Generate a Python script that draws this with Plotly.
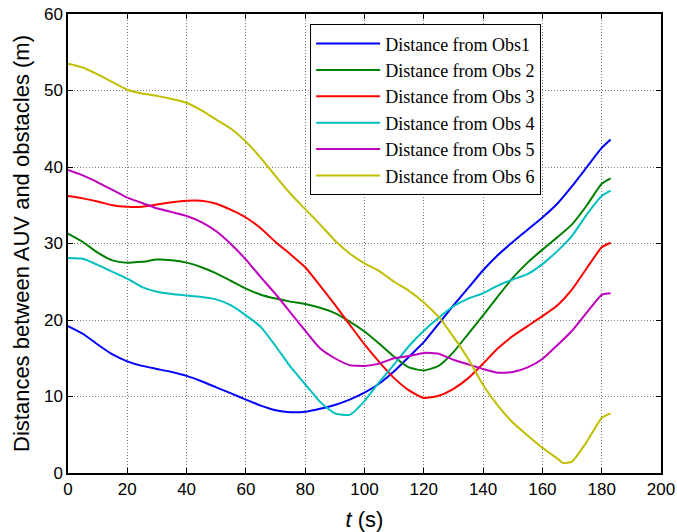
import plotly.graph_objects as go

# time samples (s)
t = [0, 5, 10, 15, 20, 25, 30, 35, 40, 45, 50, 55, 60, 65, 70, 75, 80, 85, 90,
     95, 100, 105, 110, 115, 120, 125, 130, 135, 140, 145, 150, 155, 160, 165,
     170, 175, 180, 183]

obs1 = [19.2, 18.2, 16.8, 15.5, 14.6, 14.0, 13.6, 13.2, 12.7, 12.0, 11.2, 10.4,
        9.6, 8.8, 8.2, 7.95, 8.0, 8.4, 8.9, 9.6, 10.5, 11.7, 13.3, 15.2, 17.1,
        19.5, 21.9, 24.2, 26.5, 28.5, 30.2, 31.8, 33.4, 35.2, 37.5, 40.0, 42.5, 43.6]
obs2 = [31.3, 30.2, 28.8, 27.8, 27.5, 27.6, 27.9, 27.8, 27.5, 26.9, 26.1, 25.1,
        24.1, 23.3, 22.8, 22.4, 22.1, 21.6, 20.9, 19.8, 18.5, 16.9, 15.2, 13.8,
        13.4, 14.0, 15.8, 18.2, 20.6, 23.1, 25.5, 27.5, 29.2, 30.8, 32.5, 35.0, 37.8, 38.5]
obs3 = [36.2, 35.9, 35.5, 35.0, 34.8, 34.8, 35.1, 35.4, 35.6, 35.6, 35.2, 34.4,
        33.4, 32.0, 30.2, 28.6, 26.9, 24.5, 22.0, 19.4, 16.8, 14.5, 12.4, 10.8,
        9.8, 10.1, 11.0, 12.4, 14.3, 16.3, 17.9, 19.2, 20.5, 21.9, 24.0, 26.8, 29.5, 30.1]
obs4 = [28.1, 28.0, 27.2, 26.3, 25.4, 24.3, 23.7, 23.4, 23.2, 23.0, 22.7, 21.9,
        20.6, 19.1, 16.6, 13.9, 11.6, 9.3, 7.8, 7.6, 9.4, 11.9, 14.2, 16.6, 18.6,
        20.3, 21.8, 22.8, 23.5, 24.5, 25.3, 26.0, 27.3, 29.0, 31.0, 33.8, 36.2, 36.9]
obs5 = [39.6, 38.9, 38.0, 37.0, 36.0, 35.3, 34.6, 34.1, 33.6, 32.8, 31.6, 29.9,
        27.9, 25.6, 23.4, 21.0, 18.6, 16.3, 15.0, 14.1, 14.0, 14.3, 15.0, 15.3,
        15.7, 15.6, 14.8, 14.2, 13.6, 13.1, 13.2, 13.8, 14.9, 16.7, 18.6, 21.0, 23.3, 23.5]

t6 = [0, 5, 10, 15, 20, 25, 30, 35, 40, 45, 50, 55, 60, 65, 70, 75, 80, 85, 90,
      95, 100, 105, 110, 115, 120, 125, 130, 135, 140, 145, 150, 155, 160, 165,
      167, 170, 175, 180, 183]
obs6 = [53.5, 53.0, 52.1, 51.1, 50.1, 49.6, 49.3, 48.9, 48.4, 47.4, 46.2, 45.0,
        43.3, 41.2, 38.8, 36.5, 34.5, 32.5, 30.4, 28.7, 27.4, 26.4, 25.0, 23.8,
        22.3, 20.4, 17.8, 14.9, 11.5, 8.8, 6.6, 4.9, 3.3, 1.9, 1.3, 1.5, 4.1, 7.2, 7.8]

names = ["Distance from Obs1", "Distance from Obs 2", "Distance from Obs 3",
         "Distance from Obs 4", "Distance from Obs 5", "Distance from Obs 6"]
colors = ["#0000FF", "#008000", "#FF0000", "#00BFBF", "#BF00BF", "#BFBF00"]
xs = [t, t, t, t, t, t6]
ys = [obs1, obs2, obs3, obs4, obs5, obs6]

fig = go.Figure()
for x, y, n, c in zip(xs, ys, names, colors):
    fig.add_trace(go.Scatter(x=x, y=y, name=n, mode="lines",
                             line=dict(color=c, width=2, shape="spline", smoothing=0.5)))

axis_common = dict(showline=True, linecolor="black", linewidth=1.5, mirror="ticks",
                   ticks="inside", ticklen=5, tickcolor="black", tickwidth=1,
                   showgrid=True, gridcolor="#7a7a7a", griddash="1px,2px", gridwidth=1,
                   zeroline=False,
                   tickfont=dict(family="Liberation Sans, Arial", size=17, color="black"))

fig.update_xaxes(range=[0, 200], tick0=0, dtick=20,
                 title=dict(text="<i>t</i> (s)", standoff=14,
                            font=dict(family="Liberation Sans, Arial", size=22, color="black")),
                 **axis_common)
fig.update_yaxes(range=[0, 60], tick0=0, dtick=10,
                 title=dict(text="Distances between AUV and obstacles (m)", standoff=8,
                            font=dict(family="Liberation Sans, Arial", size=22, color="black")),
                 **axis_common)

fig.update_layout(
    width=677, height=532,
    margin=dict(l=68, r=16, t=14, b=59, autoexpand=False),
    plot_bgcolor="white", paper_bgcolor="white",
    legend=dict(x=0.408, y=0.978, xanchor="left", yanchor="top",
                bgcolor="white", bordercolor="black", borderwidth=1.2,
                itemwidth=64,
                font=dict(family="Liberation Serif, Times New Roman", size=18, color="black")),
)

fig.write_html("out.html")
